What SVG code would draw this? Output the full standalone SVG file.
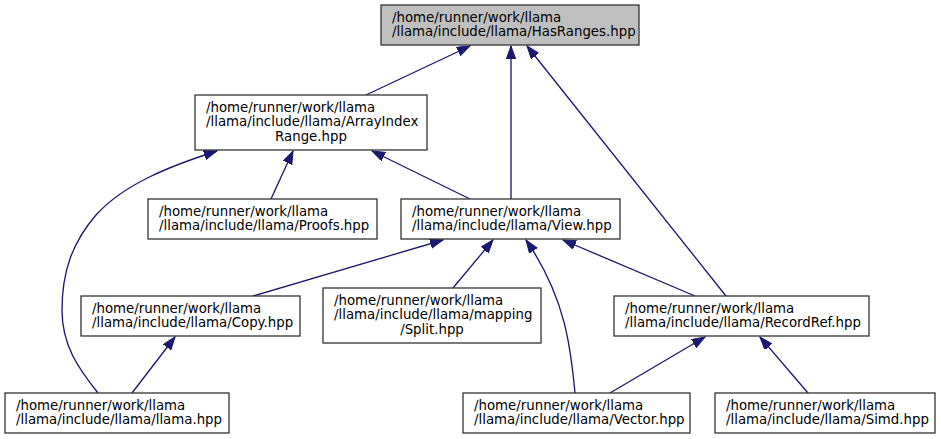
<svg xmlns="http://www.w3.org/2000/svg" width="941" height="439" viewBox="0 0 941 439">
<style>
.box{fill:#ffffff;stroke:#333333;stroke-width:1.3}
.root{fill:#bfbfbf;stroke:#333333;stroke-width:1.3}
text{font-family:"DejaVu Sans","Liberation Sans",sans-serif;font-size:13.33px;fill:#000000}
.c{text-anchor:middle}
.edge{fill:none;stroke:#191970;stroke-width:1.33}
</style>
<defs>
<marker id="ah" markerUnits="userSpaceOnUse" markerWidth="14" markerHeight="10" refX="13" refY="4.7" orient="auto" viewBox="0 0 14 10">
<path d="M0,0 L13,4.7 L0,9.4 z" fill="#191970" stroke="#191970" stroke-width="1"/>
</marker>
</defs>
<g id="edges">
<path class="edge" marker-end="url(#ah)" d="M366,95 L470,46"/>
<path class="edge" marker-end="url(#ah)" d="M511,199 L511,46"/>
<path class="edge" marker-end="url(#ah)" d="M726,296 L527,46"/>
<path class="edge" marker-end="url(#ah)" d="M271,199 L293,151"/>
<path class="edge" marker-end="url(#ah)" d="M470,199 L372,151"/>
<path class="edge" marker-end="url(#ah)" d="M98,393 C78,368 62,345 62,310 C62,272 72,243 96,215 C124,184 170,166 217,151"/>
<path class="edge" marker-end="url(#ah)" d="M253,296 L443,240"/>
<path class="edge" marker-end="url(#ah)" d="M453,288 L493,240"/>
<path class="edge" marker-end="url(#ah)" d="M575,393 C571,350 566,298 526,240"/>
<path class="edge" marker-end="url(#ah)" d="M695,296 L563,240"/>
<path class="edge" marker-end="url(#ah)" d="M132,393 L175,337"/>
<path class="edge" marker-end="url(#ah)" d="M610,393 L705,337"/>
<path class="edge" marker-end="url(#ah)" d="M808,393 L760,337"/>
</g>
<g id="HasRanges">
<rect class="root" x="381" y="5" width="258" height="40"/>
<text x="392" y="21.5">/home/runner/work/llama</text>
<text x="392" y="36">/llama/include/llama/HasRanges.hpp</text>
</g>
<g id="ArrayIndexRange">
<rect class="box" x="195" y="95" width="232" height="55"/>
<text x="206" y="111.5">/home/runner/work/llama</text>
<text x="206" y="126">/llama/include/llama/ArrayIndex</text>
<text class="c" x="311" y="140.5">Range.hpp</text>
</g>
<g id="Proofs">
<rect class="box" x="148" y="199" width="229" height="40"/>
<text x="159" y="215.5">/home/runner/work/llama</text>
<text x="159" y="230">/llama/include/llama/Proofs.hpp</text>
</g>
<g id="View">
<rect class="box" x="401" y="199" width="219" height="40"/>
<text x="412" y="215.5">/home/runner/work/llama</text>
<text x="412" y="230">/llama/include/llama/View.hpp</text>
</g>
<g id="Copy">
<rect class="box" x="81" y="296" width="219" height="40"/>
<text x="92" y="312.5">/home/runner/work/llama</text>
<text x="92" y="327">/llama/include/llama/Copy.hpp</text>
</g>
<g id="Split">
<rect class="box" x="323" y="288" width="218" height="55"/>
<text x="334" y="304.5">/home/runner/work/llama</text>
<text x="334" y="319">/llama/include/llama/mapping</text>
<text class="c" x="432" y="333.5">/Split.hpp</text>
</g>
<g id="RecordRef">
<rect class="box" x="614" y="296" width="255" height="40"/>
<text x="625" y="312.5">/home/runner/work/llama</text>
<text x="625" y="327">/llama/include/llama/RecordRef.hpp</text>
</g>
<g id="llama">
<rect class="box" x="5" y="393" width="224" height="40"/>
<text x="16" y="409.5">/home/runner/work/llama</text>
<text x="16" y="424">/llama/include/llama/llama.hpp</text>
</g>
<g id="Vector">
<rect class="box" x="463" y="393" width="227" height="40"/>
<text x="474" y="409.5">/home/runner/work/llama</text>
<text x="474" y="424">/llama/include/llama/Vector.hpp</text>
</g>
<g id="Simd">
<rect class="box" x="715" y="393" width="220" height="40"/>
<text x="726" y="409.5">/home/runner/work/llama</text>
<text x="726" y="424">/llama/include/llama/Simd.hpp</text>
</g>
</svg>
